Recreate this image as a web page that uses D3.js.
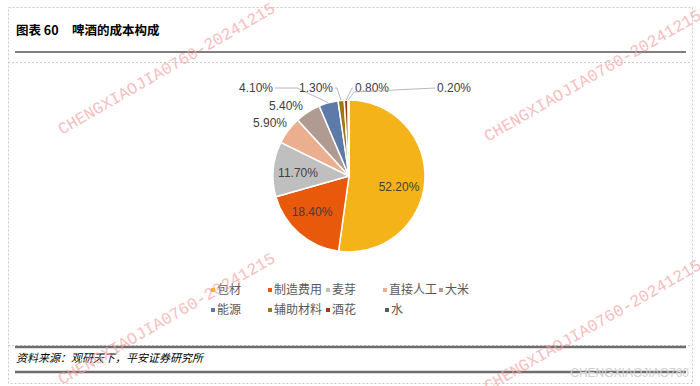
<!DOCTYPE html>
<html>
<head>
<meta charset="utf-8">
<script src="https://cdn.jsdelivr.net/npm/d3@7"></script>
<style>
  body { margin: 0; background: #fff; }
  svg { display: block; }
  .lbl { font-family: "Liberation Sans", Arial, sans-serif; font-size: 12px; fill: #404040; }
  .leg { font-family: "Noto Sans CJK SC", sans-serif; font-size: 12px; fill: #595959; }
</style>
</head>
<body>
<svg id="chart" width="700" height="386"></svg>
<script>
// cost structure of beer (%)
const categories = ["包材", "制造费用", "麦芽", "直接人工", "大米", "能源", "辅助材料", "酒花", "水"];
const values = [52.2, 18.4, 11.7, 5.9, 5.4, 4.1, 1.3, 0.8, 0.2];
const colors = ["#F5B31A", "#E8590C", "#BFBFBF", "#EBAE8E", "#B09B92", "#5E7AA8", "#A07812", "#A2380E", "#5A5A5A"];

const titleText = "图表 60";
const titleText2 = "啤酒的成本构成";
const sourceText = "资料来源：观研天下，平安证券研究所";
const watermark = "CHENGXIAOJIA0760-20241215";

const svg = d3.select("svg#chart");
const width = 700, height = 386;

// frames
const dash = "2,2";
svg.append("rect").attr("x", 8.5).attr("y", 7.5).attr("width", 684).attr("height", 376)
  .attr("fill", "none").attr("stroke", "#c8c8c8").attr("stroke-dasharray", dash);
svg.append("line").attr("x1", 8).attr("x2", 692).attr("y1", 62.5).attr("y2", 62.5)
  .attr("stroke", "#c8c8c8").attr("stroke-dasharray", dash);
svg.append("line").attr("x1", 8).attr("x2", 692).attr("y1", 345.5).attr("y2", 345.5)
  .attr("stroke", "#c8c8c8").attr("stroke-dasharray", dash);

// title
const title = svg.append("text").attr("x", 16).attr("y", 35)
  .style("font-family", "'Noto Sans CJK SC', sans-serif").style("font-size", "12.5px")
  .style("font-weight", "bold").attr("fill", "#000");
title.append("tspan").text(titleText);
title.append("tspan").attr("x", 72).text(titleText2);
svg.append("line").attr("x1", 15).attr("x2", 686).attr("y1", 52).attr("y2", 52)
  .attr("stroke", "#000").attr("stroke-width", 1.2);

// pie
const cx = 349, cy = 176, r = 76;
const pie = d3.pie().sort(null).value(d => d);
const arcs = pie(values);
const arc = d3.arc().innerRadius(0).outerRadius(r);
const edge = d3.arc().innerRadius(r).outerRadius(r);

const g = svg.append("g").attr("transform", translate(cx, cy));
g.selectAll("path.slice").data(arcs).enter().append("path")
  .attr("class", "slice")
  .attr("d", arc)
  .attr("fill", (d, i) => colors[i])
  .attr("stroke", "#fff").attr("stroke-width", 1.5);

// label placement (relative to pie centre); elbow = leader line bend
const labelPos = [
  { x: 50, y: 11, anchor: "middle" },
  { x: -37, y: 36, anchor: "middle" },
  { x: -51, y: -3, anchor: "middle" },
  { x: -62, y: -53, anchor: "end" },
  { x: -46, y: -70, anchor: "end" },
  { x: -76, y: -88, anchor: "end", elbow: [-52, -88] },
  { x: -16, y: -88, anchor: "end", elbow: [-12, -88] },
  { x: 6, y: -88, anchor: "start", elbow: [3, -88] },
  { x: 88, y: -88, anchor: "start", elbow: [5, -84] }
];

const fmt = d => d.toFixed(2) + "%";

arcs.forEach(function(d, i) {
  const p = labelPos[i];
  if (p.elbow) {
    const s = edge.centroid(d);
    const pts = [s, p.elbow, [p.x + (p.anchor === "end" ? 2 : -2), p.y]];
    g.append("path").attr("d", d3.line()(pts))
      .attr("fill", "none").attr("stroke", "#a6a6a6").attr("stroke-width", 0.8);
  }
  g.append("text").attr("class", "lbl")
    .attr("x", p.x).attr("y", p.y).attr("dy", "0.35em")
    .attr("text-anchor", p.anchor)
    .text(fmt(values[i]));
});

// legend
const legX = [213, 270, 328, 385, 441];
const legY = [290, 310];
const legCols = [0, 1, 2, 3, 4, 0, 1, 2, 3];
const legRows = [0, 0, 0, 0, 0, 1, 1, 1, 1];
const legG = svg.append("g");
categories.forEach(function(c, i) {
  const x = legX[legCols[i]] + (i === 8 ? 2 : 0), y = legY[legRows[i]];
  legG.append("rect").attr("x", x - 2).attr("y", y - 2).attr("width", 4).attr("height", 4).attr("fill", colors[i]);
  legG.append("text").attr("class", "leg").attr("x", x + 4).attr("y", y).attr("dy", "0.36em").text(c);
});

// footer
svg.append("line").attr("x1", 15).attr("x2", 686).attr("y1", 347).attr("y2", 347)
  .attr("stroke", "#6e6e6e").attr("stroke-width", 2.4);
svg.append("text").attr("x", 16).attr("y", 362)
  .style("font-family", "'Noto Sans CJK SC', sans-serif").style("font-size", "11px")
  .style("font-style", "italic").attr("fill", "#000").text(sourceText);
svg.append("line").attr("x1", 15).attr("x2", 686).attr("y1", 372).attr("y2", 372)
  .attr("stroke", "#6e6e6e").attr("stroke-width", 2.4);
svg.append("text").attr("x", 689).attr("y", 377).attr("text-anchor", "end")
  .style("font-family", "'Liberation Sans', sans-serif").style("font-size", "12px")
  .attr("fill", "#d0d0d0").text("CHENGXIAOJIAO760");

// watermarks
const wmStarts = [[62, 135], [62, 385], [488, 142], [488, 392]];
svg.append("g").selectAll("text").data(wmStarts).enter().append("text")
  .attr("transform", d => translate(d[0], d[1]) + " rotate(-30)")
  .style("font-family", "'Liberation Mono', monospace").style("font-size", "16.5px")
  .attr("fill", "#f4a3a3").attr("opacity", 0.7)
  .text(watermark);

function translate(x, y) {
  return "translate(" + String(x) + "," + String(y) + ")";
}
</script>
</body>
</html>
